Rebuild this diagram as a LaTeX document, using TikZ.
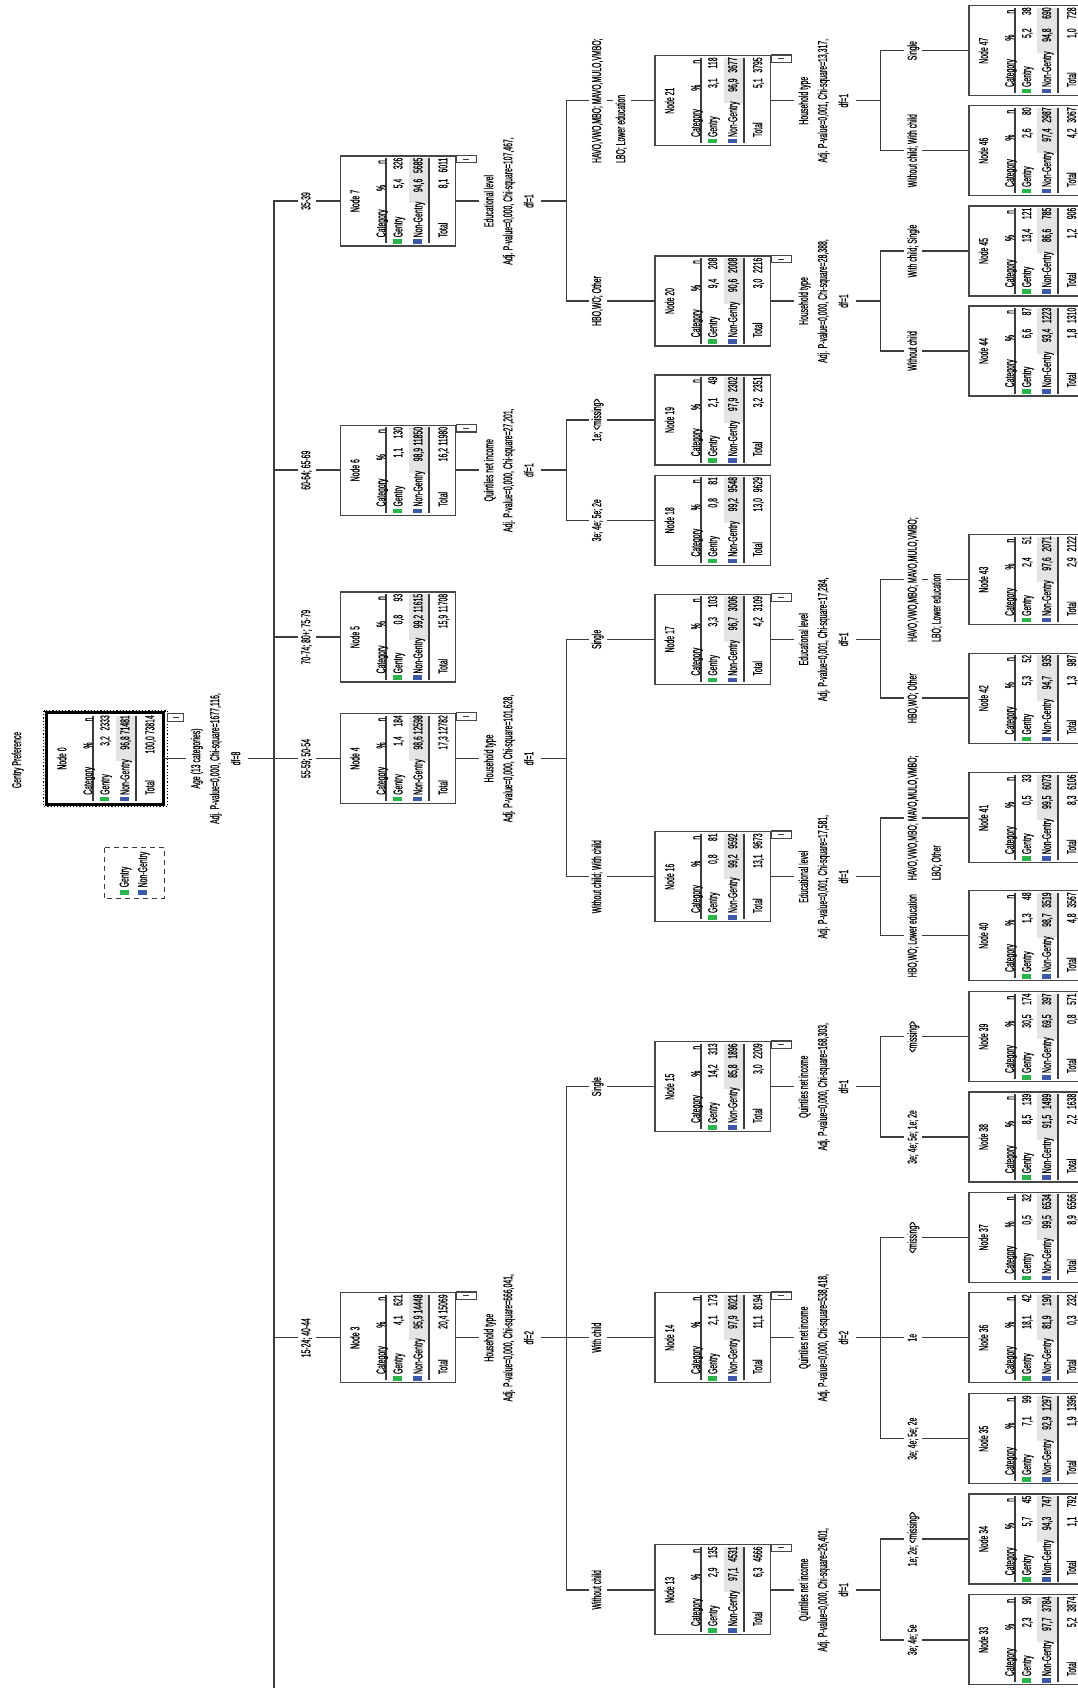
\documentclass[tikz,border=0pt]{standalone}
\usepackage{fontspec}
\newfontfamily\tf[FakeStretch=0.53,FakeBold=0.35]{Liberation Sans}
\newcommand\ff{\tf\fontsize{13pt}{15pt}\selectfont}
\usetikzlibrary{calc}
\definecolor{gcol}{RGB}{40,182,72}
\definecolor{bcol}{RGB}{58,88,172}
\definecolor{hlc}{RGB}{228,228,228}
\definecolor{linec}{RGB}{60,60,60}
\definecolor{boxc}{RGB}{70,70,70}
\tikzset{
  txt/.style={font=\ff, rotate=90, inner sep=0pt, text height=9.3pt, text depth=0pt, text=black},
  lbl/.style={font=\ff, rotate=90, fill=white, inner xsep=3pt, inner ysep=3pt, text height=9.4pt, text depth=2.7pt, text=black},
  spl/.style={lbl, inner ysep=5pt},
  box/.style={draw=boxc, line width=1.3pt, fill=white, minimum width=115.5pt, minimum height=90pt, inner sep=0pt},
  conn/.style={draw=linec, line width=1.5pt},
  tline/.style={draw=linec, line width=2pt},
  mbox/.style={draw=boxc, line width=1.2pt, fill=white},
  legd/.style={draw=linec, line width=1.2pt, dash pattern=on 5pt off 4pt},
}
% table node: name, position (X0,Yc), number, G%, Gn, NG%, NGn, T%, Tn
\newcommand\tnode[9]{%
\begin{scope}[shift={(#2)}]
\node[box] (#1) at (57.75,0) {};
\fill[hlc] (68.5,-43) rectangle (87.6,2.5);
\draw[tline] (45.7,-43) -- (45.7,42.5);
\draw[tline] (88.7,-43) -- (88.7,42.5);
\node[txt] at (14.5,0) {Node #3};
\node[txt,anchor=west] at (40.5,36.5) {Category};
\node[txt] at (40.5,-13) {\%};
\node[txt] at (40.5,-39) {n};
\fill[gcol] (53,38.3) rectangle (62,42.8);
\node[txt,anchor=west] at (57.5,36.5) {Gentry};
\node[txt,anchor=east] at (57.5,-22.5) {#4};
\node[txt,anchor=east] at (57.5,-43.5) {#5};
\fill[bcol] (73,38.3) rectangle (82,42.8);
\node[txt,anchor=west] at (77.5,36.5) {Non-Gentry};
\node[txt,anchor=east] at (77.5,-22.5) {#6};
\node[txt,anchor=east] at (77.5,-43.5) {#7};
\node[txt,anchor=west] at (102.5,36.5) {Total};
\node[txt,anchor=east] at (102.5,-22.5) {#8};
\node[txt,anchor=east] at (102.5,-43.5) {#9};
\end{scope}}
% collapse box
\newcommand\cbox[1]{%
\draw[mbox] (#1.north east) rectangle ++(20,7.5);
\draw[linec, line width=1pt] ($(#1.north east)+(7,3.75)$) -- ++(6,0);}
% split label
\newcommand\splab[4]{%
\node[spl] at ($(#1.east)+(33.5,0)$) {#2};
\node[spl] at ($(#1.east)+(52.5,0)$) {#3};
\node[spl] at ($(#1.east)+(73.5,0)$) {#4};}
% branch labels
\newcommand\blab[4]{\node[lbl] (#1) at ($(#2.west)+(#3,0)$) {#4};}
\newcommand\blabb[5]{\node[lbl] (#1) at ($(#2.west)+(#3,0)$) {#4};
\node[lbl,anchor=west] at ([xshift=24pt]#1.west) {#5};}
\begin{document}
\begin{tikzpicture}[x=1pt,y=-1pt]
\useasboundingbox (0,0) rectangle (1078,1688);
\fill[white] (0,0) rectangle (1078,1688);
\begin{scope}
\clip (0,0) rectangle (1078,1688);
% title
\node[txt] (title) at (16.5,760) {Gentry Preference};
% legend
\draw[legd] (104.4,847.5) rectangle (164.3,898.5);
\fill[gcol] (119.5,890) rectangle (128.5,894.5);
\node[txt,anchor=west] (lg1) at (124,887.5) {Gentry};
\fill[bcol] (138,890) rectangle (147,894.5);
\node[txt,anchor=west] (lg2) at (142.5,887.5) {Non-Gentry};
% root
\tnode{n0}{47.2,758.5}{0}{3,2}{2333}{96,8}{71481}{100,0}{73814}
\draw[black, line width=3pt] (n0.south west) rectangle (n0.north east);
\draw[black, line width=1.2pt, dotted] (43.7,711) rectangle (167.5,806.5);
\draw[mbox] (167.5,713.6) rectangle (183.5,721.4);
\draw[linec, line width=1pt] (172.5,717.5) -- (178.5,717.5);
% level 1
\tnode{n7}{340.3,201}{7}{5,4}{326}{94,6}{5685}{8,1}{6011}
\tnode{n6}{340.3,470.2}{6}{1,1}{130}{98,9}{11850}{16,2}{11980}
\tnode{n5}{340.3,637.1}{5}{0,8}{93}{99,2}{11615}{15,9}{11708}
\tnode{n4}{340.3,758.5}{4}{1,4}{184}{98,6}{12598}{17,3}{12782}
\tnode{n3}{340.3,1337.7}{3}{4,1}{621}{95,9}{14448}{20,4}{15069}
% level 2
\tnode{n21}{655,100.7}{21}{3,1}{118}{96,9}{3677}{5,1}{3795}
\tnode{n20}{655,301}{20}{9,4}{208}{90,6}{2008}{3,0}{2216}
\tnode{n19}{655,420}{19}{2,1}{49}{97,9}{2302}{3,2}{2351}
\tnode{n18}{655,520.3}{18}{0,8}{81}{99,2}{9548}{13,0}{9629}
\tnode{n17}{655,639.3}{17}{3,3}{103}{96,7}{3006}{4,2}{3109}
\tnode{n16}{655,876.7}{16}{0,8}{81}{99,2}{9592}{13,1}{9673}
\tnode{n15}{655,1086.7}{15}{14,2}{313}{85,8}{1896}{3,0}{2209}
\tnode{n14}{655,1337.7}{14}{2,1}{173}{97,9}{8021}{11,1}{8194}
\tnode{n13}{655,1589.8}{13}{2,9}{135}{97,1}{4531}{6,3}{4666}
% level 3
\tnode{n47}{968.9,50.7}{47}{5,2}{38}{94,8}{690}{1,0}{728}
\tnode{n46}{968.9,150.7}{46}{2,6}{80}{97,4}{2987}{4,2}{3067}
\tnode{n45}{968.9,251}{45}{13,4}{121}{86,6}{785}{1,2}{906}
\tnode{n44}{968.9,351}{44}{6,6}{87}{93,4}{1223}{1,8}{1310}
\tnode{n43}{968.9,579.6}{43}{2,4}{51}{97,6}{2071}{2,9}{2122}
\tnode{n42}{968.9,698.2}{42}{5,3}{52}{94,7}{935}{1,3}{987}
\tnode{n41}{968.9,817.8}{41}{0,5}{33}{99,5}{6073}{8,3}{6106}
\tnode{n40}{968.9,935.7}{40}{1,3}{48}{98,7}{3519}{4,8}{3567}
\tnode{n39}{968.9,1036.7}{39}{30,5}{174}{69,5}{397}{0,8}{571}
\tnode{n38}{968.9,1137}{38}{8,5}{139}{91,5}{1499}{2,2}{1638}
\tnode{n37}{968.9,1237.4}{37}{0,5}{32}{99,5}{6534}{8,9}{6566}
\tnode{n36}{968.9,1337.7}{36}{18,1}{42}{81,9}{190}{0,3}{232}
\tnode{n35}{968.9,1438.7}{35}{7,1}{99}{92,9}{1297}{1,9}{1396}
\tnode{n34}{968.9,1539}{34}{5,7}{45}{94,3}{747}{1,1}{792}
\tnode{n33}{968.9,1639.8}{33}{2,3}{90}{97,7}{3784}{5,2}{3874}
% collapse boxes
\cbox{n7}\cbox{n6}\cbox{n4}\cbox{n3}
\cbox{n21}\cbox{n20}\cbox{n17}\cbox{n16}\cbox{n15}\cbox{n14}\cbox{n13}
% connectors: root
\coordinate (t0) at (273.8,758.5);
\coordinate (tend) at (273.8,1692);
\draw[conn] (n0.east) -- (t0) -- (tend);
\draw[conn] (t0) |- (n7.west);
\draw[conn] (t0) |- (n6.west);
\draw[conn] (t0) |- (n5.west);
\draw[conn] (t0) -- (n4.west);
\draw[conn] (t0) |- (n3.west);
% level 2 buses
\coordinate (b7) at ($(n7.east)+(110,0)$);
\coordinate (b6) at ($(n6.east)+(110,0)$);
\coordinate (b4) at ($(n4.east)+(110,0)$);
\coordinate (b3) at ($(n3.east)+(110,0)$);
\draw[conn] (n7.east) -- (b7) |- (n21.west); \draw[conn] (b7) |- (n20.west);
\draw[conn] (n6.east) -- (b6) |- (n19.west); \draw[conn] (b6) |- (n18.west);
\draw[conn] (n4.east) -- (b4) |- (n17.west); \draw[conn] (b4) |- (n16.west);
\draw[conn] (n3.east) -- (b3) |- (n15.west); \draw[conn] (b3) |- (n14.west); \draw[conn] (b3) |- (n13.west);
% level 3 buses
\coordinate (b21) at ($(n21.east)+(109.2,0)$);
\coordinate (b20) at ($(n20.east)+(109.2,0)$);
\coordinate (b17) at ($(n17.east)+(109.2,0)$);
\coordinate (b16) at ($(n16.east)+(109.2,0)$);
\coordinate (b15) at ($(n15.east)+(109.2,0)$);
\coordinate (b14) at ($(n14.east)+(109.2,0)$);
\coordinate (b13) at ($(n13.east)+(109.2,0)$);
\draw[conn] (n21.east) -- (b21) |- (n47.west); \draw[conn] (b21) |- (n46.west);
\draw[conn] (n20.east) -- (b20) |- (n45.west); \draw[conn] (b20) |- (n44.west);
\draw[conn] (n17.east) -- (b17) |- (n43.west); \draw[conn] (b17) |- (n42.west);
\draw[conn] (n16.east) -- (b16) |- (n41.west); \draw[conn] (b16) |- (n40.west);
\draw[conn] (n15.east) -- (b15) |- (n39.west); \draw[conn] (b15) |- (n38.west);
\draw[conn] (n14.east) -- (b14) |- (n37.west); \draw[conn] (b14) |- (n36.west); \draw[conn] (b14) |- (n35.west);
\draw[conn] (n13.east) -- (b13) |- (n34.west); \draw[conn] (b13) |- (n33.west);
% split labels
\splab{n0}{Age (13 categories)}{Adj. P-value=0,000, Chi-square=1677,116,}{df=8}
\splab{n7}{Educational level}{Adj. P-value=0,000, Chi-square=107,467,}{df=1}
\splab{n6}{Quintiles net income}{Adj. P-value=0,000, Chi-square=27,201,}{df=1}
\splab{n4}{Household type}{Adj. P-value=0,000, Chi-square=101,628,}{df=1}
\splab{n3}{Household type}{Adj. P-value=0,000, Chi-square=666,041,}{df=2}
\splab{n21}{Household type}{Adj. P-value=0,001, Chi-square=13,317,}{df=1}
\splab{n20}{Household type}{Adj. P-value=0,000, Chi-square=28,388,}{df=1}
\splab{n17}{Educational level}{Adj. P-value=0,001, Chi-square=17,284,}{df=1}
\splab{n16}{Educational level}{Adj. P-value=0,001, Chi-square=17,581,}{df=1}
\splab{n15}{Quintiles net income}{Adj. P-value=0,000, Chi-square=168,303,}{df=1}
\splab{n14}{Quintiles net income}{Adj. P-value=0,000, Chi-square=538,418,}{df=2}
\splab{n13}{Quintiles net income}{Adj. P-value=0,000, Chi-square=26,401,}{df=1}
% branch labels level 1
\blab{l7}{n7}{-32.7}{35-39}
\blab{l6}{n6}{-32.7}{60-64; 65-69}
\blab{l5}{n5}{-32.7}{70-74; 80+; 75-79}
\blab{l4}{n4}{-32.7}{55-59; 50-54}
\blab{l3}{n3}{-32.7}{15-24; 40-44}
% level 2
\blabb{l21}{n21}{-56.7}{HAVO,VWO,MBO; MAVO,MULO,VMBO;}{LBO; Lower education}
\blab{l20}{n20}{-56.7}{HBO,WO; Other}
\blab{l19}{n19}{-56.7}{1e; <missing>}
\blab{l18}{n18}{-56.7}{3e; 4e; 5e; 2e}
\blab{l17}{n17}{-56.7}{Single}
\blab{l16}{n16}{-56.7}{Without child; With child}
\blab{l15}{n15}{-56.7}{Single}
\blab{l14}{n14}{-56.7}{With child}
\blab{l13}{n13}{-56.7}{Without child}
% level 3
\blab{l47}{n47}{-54.9}{Single}
\blab{l46}{n46}{-54.9}{Without child; With child}
\blab{l45}{n45}{-54.9}{With child; Single}
\blab{l44}{n44}{-54.9}{Without child}
\blabb{l43}{n43}{-54.9}{HAVO,VWO,MBO; MAVO,MULO,VMBO;}{LBO; Lower education}
\blab{l42}{n42}{-54.9}{HBO,WO; Other}
\blabb{l41}{n41}{-54.9}{HAVO,VWO,MBO; MAVO,MULO,VMBO;}{LBO; Other}
\blab{l40}{n40}{-54.9}{HBO,WO; Lower education}
\blab{l39}{n39}{-54.9}{<missing>}
\blab{l38}{n38}{-54.9}{3e; 4e; 5e; 1e; 2e}
\blab{l37}{n37}{-54.9}{<missing>}
\blab{l36}{n36}{-54.9}{1e}
\blab{l35}{n35}{-54.9}{3e; 4e; 5e; 2e}
\blab{l34}{n34}{-54.9}{1e; 2e; <missing>}
\blab{l33}{n33}{-54.9}{3e; 4e; 5e}
\end{scope}
\end{tikzpicture}
\end{document}
